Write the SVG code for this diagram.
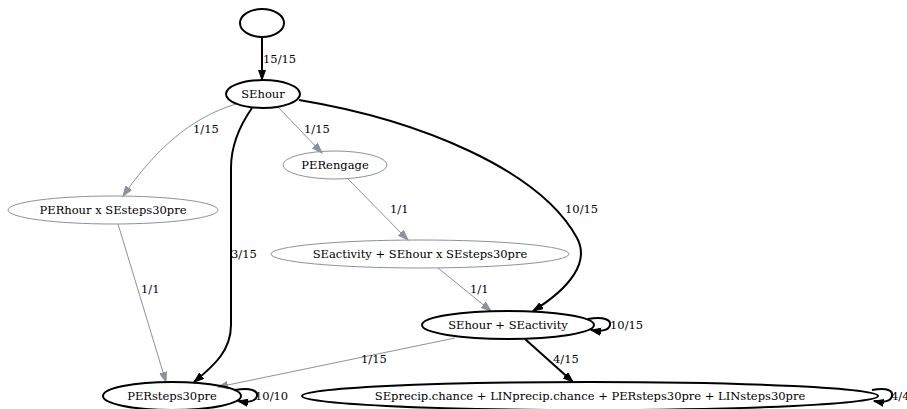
<svg xmlns="http://www.w3.org/2000/svg" width="907" height="409" viewBox="0 0 907 409" font-family="'DejaVu Serif', 'Liberation Serif', serif">
<defs>
<style>
text{font-size:11.5px;fill:#000;dominant-baseline:central}
.n{fill:none;stroke:#000;stroke-width:2}
.g{fill:none;stroke:#8a939b;stroke-width:1}
.lbl{text-anchor:middle}
.eb{fill:none;stroke:#000;stroke-width:2}
.eg{fill:none;stroke:#8a939b;stroke-width:1}
</style>
<marker id="ab" markerUnits="userSpaceOnUse" markerWidth="11" markerHeight="9" refX="10" refY="4" orient="auto"><path d="M0,0.5 L10,4 L0,7.5 z" fill="#000" stroke="#000" stroke-width="1"/></marker>
<marker id="ag" markerUnits="userSpaceOnUse" markerWidth="11" markerHeight="9" refX="10" refY="4" orient="auto"><path d="M0,0.5 L10,4 L0,7.5 z" fill="#8a939b" stroke="#8a939b" stroke-width="1"/></marker>
</defs>
<rect width="907" height="409" fill="#fff"/>
<g id="edges">
<path class="eb" d="M262,37 L262,80" marker-end="url(#ab)"/>
<text x="263" y="59">15/15</text>
<path class="eg" d="M236,104 C190,118 155,150 123,196" marker-end="url(#ag)"/>
<text x="193" y="129">1/15</text>
<path class="eg" d="M278,107 L322,153" marker-end="url(#ag)"/>
<text x="304" y="129">1/15</text>
<path class="eb" d="M252,108 C238,128 231,148 231,168 L231,325 C231,350 215,365 194,382" marker-end="url(#ab)"/>
<text x="231" y="254">3/15</text>
<path class="eb" d="M299,100 C420,120 540,170 577,238 C590,262 570,288 533,311" marker-end="url(#ab)"/>
<text x="565" y="209">10/15</text>
<path class="eg" d="M348,179 L408,240" marker-end="url(#ag)"/>
<text x="390" y="209">1/1</text>
<path class="eg" d="M118,224 L166,382" marker-end="url(#ag)"/>
<text x="141" y="289">1/1</text>
<path class="eg" d="M438,268 L491,311" marker-end="url(#ag)"/>
<text x="470" y="289">1/1</text>
<path class="eg" d="M455,338 L218,387" marker-end="url(#ag)"/>
<text x="361" y="359">1/15</text>
<path class="eb" d="M525,339 L573,382" marker-end="url(#ab)"/>
<text x="553" y="359">4/15</text>
<path class="eb" d="M588,319 C604,316 611,320 610,325 C609,330 602,332 591,330" marker-end="url(#ab)"/>
<text x="610" y="325">10/15</text>
<path class="eb" d="M235,390 C251,387 258,391 257,396 C256,401 249,403 238,401" marker-end="url(#ab)"/>
<text x="255" y="396">10/10</text>
<path class="eb" d="M872,390 C888,387 893,391 892,396 C891,401 884,403 874,401" marker-end="url(#ab)"/>
<text x="891" y="396">4/4</text>
</g>
<g id="start"><ellipse class="n" cx="262" cy="23" rx="22" ry="14"/></g>
<g id="SEhour"><ellipse class="n" cx="263" cy="94" rx="37" ry="14"/><text x="263" y="94" class="lbl">SEhour</text></g>
<g id="PERhourxSEsteps30pre"><ellipse class="g" cx="113" cy="210" rx="105" ry="14"/><text x="113" y="210" class="lbl">PERhour x SEsteps30pre</text></g>
<g id="PERengage"><ellipse class="g" cx="335" cy="165" rx="52" ry="14"/><text x="335" y="165" class="lbl">PERengage</text></g>
<g id="SEactivityPlus"><ellipse class="g" cx="420" cy="254" rx="149" ry="14"/><text x="420" y="254" class="lbl">SEactivity + SEhour x SEsteps30pre</text></g>
<g id="SEhourSEactivity"><ellipse class="n" cx="508" cy="325" rx="86" ry="14"/><text x="508" y="325" class="lbl">SEhour + SEactivity</text></g>
<g id="PERsteps30pre"><ellipse class="n" cx="172" cy="396" rx="69" ry="14"/><text x="172" y="396" class="lbl">PERsteps30pre</text></g>
<g id="SEprecip"><ellipse class="n" cx="590" cy="396" rx="288" ry="14"/><text x="590" y="396" class="lbl">SEprecip.chance + LINprecip.chance + PERsteps30pre + LINsteps30pre</text></g>
</svg>
